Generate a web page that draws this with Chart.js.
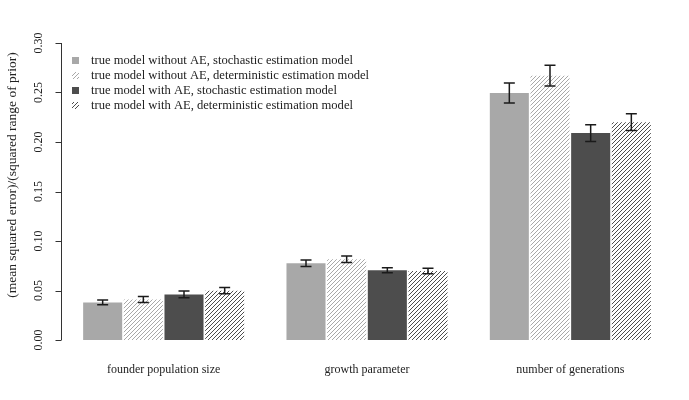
<!DOCTYPE html>
<html>
<head>
<meta charset="utf-8">
<script src="https://cdn.jsdelivr.net/npm/chart.js@4"></script>
<style>
  html, body { margin: 0; padding: 0; background: #fff; }
  #wrap { width: 689px; height: 400px; }
</style>
</head>
<body>
<div id="wrap"><canvas id="chart" width="689" height="400"></canvas></div>
<script>
// data
const categories = ['founder population size', 'growth parameter', 'number of generations'];
const seriesLabels = [
    'true model without AE, stochastic estimation model',
    'true model without AE, deterministic estimation model',
    'true model with AE, stochastic estimation model',
    'true model with AE, deterministic estimation model'
];
const noAEStoch = [0.038, 0.0775, 0.2495];
const noAEDet = [0.041, 0.0815, 0.267];
const withAEStoch = [0.046, 0.0704, 0.209];
const withAEDet = [0.0498, 0.0697, 0.220];
const noAEStochErr = [0.0025, 0.0033, 0.010];
const noAEDetErr = [0.003, 0.0033, 0.0105];
const withAEStochErr = [0.0034, 0.0025, 0.0085];
const withAEDetErr = [0.0032, 0.0027, 0.0085];
const yTicks = [0, 0.05, 0.10, 0.15, 0.20, 0.25, 0.30];

const SERIF = '"Liberation Serif", "DejaVu Serif", serif';
const TEXT = '#222';

// diagonal hatch like R's density lines
function hatch(color) {
    const c = document.createElement('canvas');
    c.width = 4; c.height = 4;
    const g = c.getContext('2d');
    g.fillStyle = '#fff';
    g.fillRect(0, 0, 4, 4);
    g.fillStyle = color;
    for (let i = 0; i < 4; i++) {
        g.fillRect(i, 3 - i, 1, 1);
    }
    return g.createPattern(c, 'repeat');
}

const lightFill = '#a8a8a8';
const darkFill = '#4d4d4d';
const fills = [lightFill, hatch('#a8a8a8'), darkFill, hatch('#4d4d4d')];
const values = [noAEStoch, noAEDet, withAEStoch, withAEDet];
const errors = [noAEStochErr, noAEDetErr, withAEStochErr, withAEDetErr];

const rAxisPlugin = {
    id: 'rAxis',
    afterDatasetsDraw(chart) {
        const ctx = chart.ctx;
        const y = chart.scales.y;
        ctx.save();

        // error bars
        ctx.strokeStyle = '#1a1a1a';
        ctx.lineWidth = 1.5;
        chart.data.datasets.forEach((ds, di) => {
            const meta = chart.getDatasetMeta(di);
            meta.data.forEach((bar, i) => {
                const v = ds.data[i], e = errors[di][i];
                const top = y.getPixelForValue(v + e);
                const bot = y.getPixelForValue(v - e);
                ctx.beginPath();
                ctx.moveTo(bar.x, top); ctx.lineTo(bar.x, bot);
                ctx.moveTo(bar.x - 5.5, top); ctx.lineTo(bar.x + 5.5, top);
                ctx.moveTo(bar.x - 5.5, bot); ctx.lineTo(bar.x + 5.5, bot);
                ctx.stroke();
            });
        });

        // y axis, R style
        const ax = 61.5;
        ctx.strokeStyle = '#333';
        ctx.lineWidth = 1;
        ctx.beginPath();
        ctx.moveTo(ax, y.getPixelForValue(0));
        ctx.lineTo(ax, y.getPixelForValue(0.3));
        yTicks.forEach(t => {
            const py = Math.round(y.getPixelForValue(t)) + 0.5;
            ctx.moveTo(ax, py); ctx.lineTo(ax - 6, py);
        });
        ctx.stroke();

        ctx.fillStyle = TEXT;
        ctx.font = '12px ' + SERIF;
        ctx.textAlign = 'center';
        ctx.textBaseline = 'middle';
        yTicks.forEach(t => {
            ctx.save();
            ctx.translate(39, y.getPixelForValue(t));
            ctx.rotate(-Math.PI / 2);
            ctx.fillText(t.toFixed(2), 0, 0);
            ctx.restore();
        });
        ctx.save();
        ctx.font = '13.5px ' + SERIF;
        ctx.translate(12, 175);
        ctx.rotate(-Math.PI / 2);
        ctx.fillText('(mean squared error)/(squared range of prior)', 0, 0);
        ctx.restore();

        // legend
        ctx.font = '12.6px ' + SERIF;
        ctx.textAlign = 'left';
        seriesLabels.forEach((lab, i) => {
            const ly = 60 + i * 15;
            ctx.fillStyle = fills[i];
            ctx.fillRect(72, ly - 3, 7, 7);
            ctx.fillStyle = TEXT;
            ctx.fillText(lab, 91, ly + 1);
        });
        ctx.restore();
    }
};

new Chart(document.getElementById('chart'), {
    type: 'bar',
    data: {
        labels: categories,
        datasets: values.map((v, i) => ({
            label: seriesLabels[i],
            data: v,
            backgroundColor: fills[i],
            borderWidth: 0,
            categoryPercentage: 0.8,
            barPercentage: 0.96
        }))
    },
    options: {
        responsive: false,
        animation: false,
        layout: { padding: { top: 43, right: 17, left: 0, bottom: 0 } },
        plugins: { legend: { display: false }, tooltip: { enabled: false } },
        scales: {
            x: {
                grid: { display: false },
                border: { display: false },
                ticks: { color: TEXT, font: { family: SERIF, size: 12 }, padding: 15 },
                afterFit: s => { s.height = 60; }
            },
            y: {
                min: 0,
                max: 0.3,
                grid: { display: false },
                border: { display: false },
                ticks: { display: false },
                afterFit: s => { s.width = 62; }
            }
        }
    },
    plugins: [rAxisPlugin]
});
</script>
</body>
</html>
